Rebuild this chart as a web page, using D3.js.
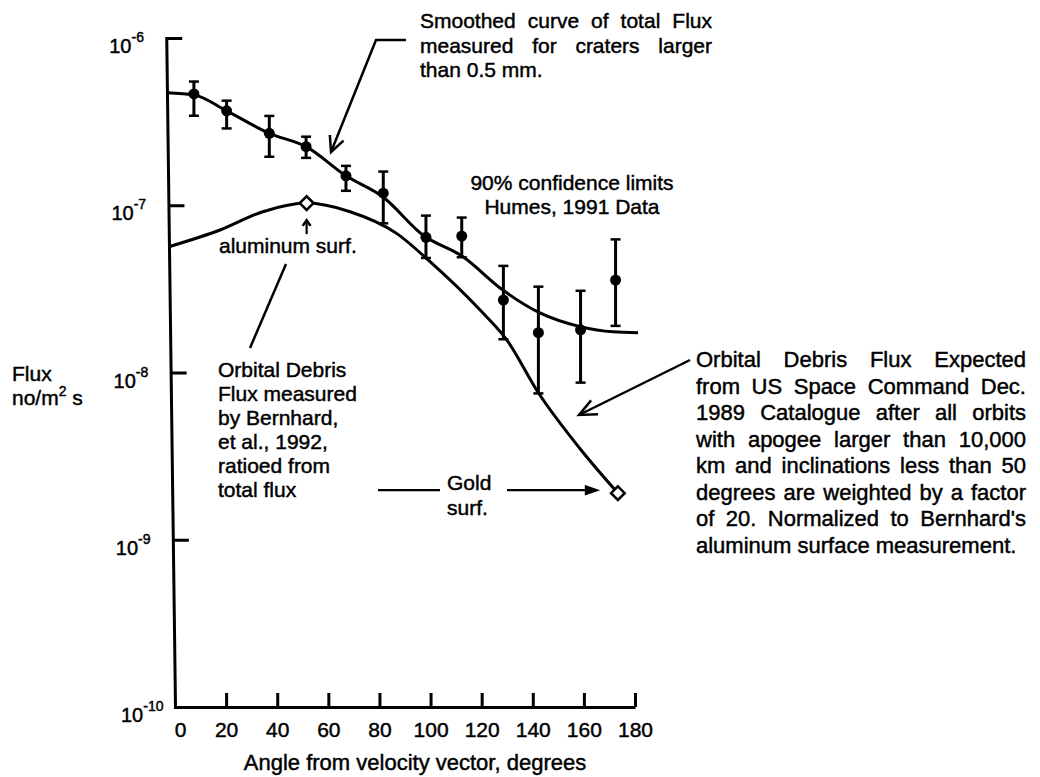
<!DOCTYPE html>
<html><head><meta charset="utf-8">
<script src="https://cdn.jsdelivr.net/npm/d3@7"></script>
<style>
body{margin:0;background:#fff}
text{font-family:"Liberation Sans",Arial,Helvetica,sans-serif;fill:#000;stroke:#000;stroke-width:0.45px}
</style>
</head><body>
<svg id="c" width="1040" height="777"></svg>
<script>
// ---------- data ----------
const xTicks = [0,20,40,60,80,100,120,140,160,180];
const yTicks = [1e-6,1e-7,1e-8,1e-9,1e-10];
const yTickExp = ["-6","-7","-8","-9","-10"];

// Humes 1991 data, 90% confidence limits
const humesAngle = [7.4,20.2,36.9,51.3,66.9,81.5,98.2,112.2,128.5,142.2,158.7,172.4];
const humesFlux  = [4.63e-7,3.67e-7,2.69e-7,2.24e-7,1.50e-7,1.18e-7,6.43e-8,6.54e-8,2.71e-8,1.73e-8,1.80e-8,3.57e-8];
const humesLow   = [3.43e-7,2.88e-7,1.95e-7,1.92e-7,1.22e-7,7.8e-8,4.84e-8,4.89e-8,1.58e-8,7.5e-9,8.7e-9,1.9e-8];
const humesHigh  = [5.49e-7,4.22e-7,3.42e-7,2.57e-7,1.72e-7,1.59e-7,8.67e-8,8.44e-8,4.34e-8,3.26e-8,3.08e-8,6.25e-8];

// smoothed curve of total flux
const smoothAngle = [0,7.4,20.2,36.9,51.3,66.9,81.4,97,112.7,128.3,142.8,158.5,171.4,181.2];
const smoothFlux  = [4.71e-7,4.57e-7,3.67e-7,2.69e-7,2.24e-7,1.50e-7,1.12e-7,6.64e-8,4.92e-8,3.11e-8,2.27e-8,1.88e-8,1.75e-8,1.73e-8];

// orbital debris flux expected (normalized to Bernhard)
const debrisAngle = [0,17.6,34.4,51.5,68.5,86.7,99.8,119.3,129.9,142,158.5,173.3];
const debrisFlux  = [5.65e-8,7.11e-8,9.15e-8,1.03e-7,9.15e-8,6.79e-8,4.6e-8,2.37e-8,1.56e-8,7.64e-9,3.5e-9,1.9e-9];

// Bernhard measurements (aluminum, gold surfaces)
const bernAngle = [51.5,173.3];
const bernFlux  = [1.03e-7,1.9e-9];

// ---------- setup ----------
const svg = d3.select("#c");
const x = d3.scaleLinear().domain([0,180]).range([175,635]);
const y = d3.scaleLog().domain([1e-10,1e-6]).range([707,38]);
const FS = 21;
const TILT = 0.75; // slight tilt of the scanned vertical axis (degrees)
const tiltOff = py => -(y(1e-10)-py)*Math.tan(TILT*Math.PI/180);

// axes
const gy = svg.append("g")
  .attr("transform",`translate(${x(0)},${y(1e-10)}) skewX(${TILT}) translate(0,${-y(1e-10)})`)
  .call(d3.axisLeft(y).tickValues(yTicks).tickSize(-16).tickSizeOuter(0).tickFormat(""));
gy.selectAll("path,line").attr("stroke","#000").attr("stroke-width",3);
gy.select(".domain").attr("stroke-linecap","square");
const gx = svg.append("g").attr("transform",`translate(0,${y(1e-10)})`)
  .call(d3.axisBottom(x).tickValues(xTicks).tickSize(-14).tickSizeOuter(0).tickPadding(15));
gx.selectAll("path,line").attr("stroke","#000").attr("stroke-width",3);
gx.selectAll(".tick").filter(d=>d===0).select("line").remove();
gx.selectAll(".tick").filter(d=>d===0).select("text").attr("dx",5);
gx.selectAll("text").attr("font-size",21).attr("font-family","Liberation Sans, Arial, sans-serif")
  .attr("fill","#000").attr("stroke","#000").attr("stroke-width",0.45);

// y tick labels with superscript
yTicks.forEach((v,i)=>{
  const t = svg.append("text").attr("x",(i===4?121:118)+tiltOff(y(v))).attr("y",y(v)+15).attr("font-size",20);
  t.append("tspan").text("10");
  t.append("tspan").attr("font-size",14).attr("dy",-11).text(yTickExp[i]);
});

// axis titles
svg.append("text").attr("x",(x(0)+x(180))/2+10).attr("y",770).attr("text-anchor","middle").attr("font-size",22)
  .text("Angle from velocity vector, degrees");
svg.append("text").attr("x",12).attr("y",y(1e-8)+8).attr("font-size",FS).text("Flux");
const ul = svg.append("text").attr("x",12).attr("y",y(1e-8)+32).attr("font-size",FS);
ul.append("tspan").text("no/m");
ul.append("tspan").attr("font-size",14).attr("dy",-9).text("2");
ul.append("tspan").attr("dy",9).text(" s");

// curves
const line = d3.line().curve(d3.curveMonotoneX);
svg.append("path").attr("d",line(smoothAngle.map((a,i)=>[x(a)+(a===0?tiltOff(y(smoothFlux[i])):0),y(smoothFlux[i])])))
  .attr("fill","none").attr("stroke","#000").attr("stroke-width",3);
svg.append("path").attr("d",line(debrisAngle.map((a,i)=>[x(a)+(a===0?tiltOff(y(debrisFlux[i])):0),y(debrisFlux[i])])))
  .attr("fill","none").attr("stroke","#000").attr("stroke-width",3);

// error bars
const eb = svg.append("g");
humesAngle.forEach((a,i)=>{
  eb.append("line").attr("x1",x(a)).attr("x2",x(a)).attr("y1",y(humesLow[i])).attr("y2",y(humesHigh[i]))
    .attr("stroke","#000").attr("stroke-width",3);
  [humesLow[i],humesHigh[i]].forEach(v=>{
    eb.append("line").attr("x1",x(a)-5).attr("x2",x(a)+5).attr("y1",y(v)).attr("y2",y(v))
      .attr("stroke","#000").attr("stroke-width",2.5);
  });
  eb.append("circle").attr("cx",x(a)).attr("cy",y(humesFlux[i])).attr("r",5.5).attr("fill","#000");
});

// diamonds
bernAngle.forEach((a,i)=>{
  svg.append("path").attr("d",d3.symbol(d3.symbolDiamond2,120)())
    .attr("transform",`translate(${x(a)},${y(bernFlux[i])})`)
    .attr("fill","#fff").attr("stroke","#000").attr("stroke-width",2.5);
});

// ---------- annotations ----------
function textLines(lines, x0, x1, yTop, lh, fs, justify){
  lines.forEach((ln,li)=>{
    const yy = yTop + li*lh;
    const words = ln.split(" ").filter(w=>w.length);
    const isLast = li===lines.length-1;
    if(!justify || isLast || words.length===1){
      svg.append("text").attr("x",x0).attr("y",yy).attr("font-size",fs).text(ln);
      return;
    }
    const nodes = words.map(w=>svg.append("text").attr("y",yy).attr("font-size",fs).text(w));
    const widths = nodes.map(n=>n.node().getComputedTextLength());
    const gap = Math.max(5,(x1-x0-d3.sum(widths))/(words.length-1));
    let cx = x0;
    nodes.forEach((n,k)=>{ n.attr("x",cx); cx += widths[k]+gap; });
  });
}
function arrowHead(tx,ty,fx,fy,len,ang,filled){
  const a = Math.atan2(fy-ty,fx-tx);
  const p1=[tx+len*Math.cos(a+ang),ty+len*Math.sin(a+ang)];
  const p2=[tx+len*Math.cos(a-ang),ty+len*Math.sin(a-ang)];
  if(filled){
    svg.append("path").attr("d",`M${p1}L${tx},${ty}L${p2}Z`).attr("fill","#000").attr("stroke","#000").attr("stroke-width",1.5);
  } else {
    svg.append("path").attr("d",`M${p1}L${tx},${ty}L${p2}`).attr("fill","none").attr("stroke","#000").attr("stroke-width",2.5);
  }
}
function seg(pts,w){
  svg.append("path").attr("d","M"+pts.map(p=>p.join(",")).join("L")).attr("fill","none").attr("stroke","#000").attr("stroke-width",w||2.5);
}

// top note
textLines(["Smoothed curve of total Flux","measured for craters larger","than 0.5 mm."],420,712,28,24.5,FS,true);
seg([[406,40],[376,40],[331,152]]);
arrowHead(331,152,376,40,17,0.45,false);

// confidence note
svg.append("text").attr("x",572).attr("y",190).attr("text-anchor","middle").attr("font-size",FS).text("90% confidence limits");
svg.append("text").attr("x",572).attr("y",214).attr("text-anchor","middle").attr("font-size",FS).text("Humes, 1991 Data");

// aluminum surf
svg.append("text").attr("x",219).attr("y",253).attr("font-size",FS).text("aluminum surf.");
const ax = x(bernAngle[0]), ay = y(bernFlux[0]);
seg([[ax,ay+31],[ax,ay+18]],2.2);
arrowHead(ax,ay+17,ax,ay+31,7,0.6,false);

// Bernhard note
textLines(["Orbital Debris","Flux measured","by Bernhard,","et al., 1992,","ratioed from","total flux"],218,340,377,24,FS,false);
seg([[286,264],[250,348]],2.5);

// Gold surf
const gx2 = x(bernAngle[1]), gy2 = y(bernFlux[1]);
svg.append("text").attr("x",447).attr("y",gy2-3).attr("font-size",FS).text("Gold");
svg.append("text").attr("x",447).attr("y",gy2+22).attr("font-size",FS).text("surf.");
seg([[378,gy2-3],[440,gy2-3]],2.2);
seg([[507,gy2-3],[gx2-22,gy2-3]],2.2);
arrowHead(gx2-20,gy2-3,507,gy2-3,13,0.33,true);

// right note
textLines(["Orbital Debris Flux Expected","from US Space Command Dec.","1989 Catalogue after all orbits",
  "with apogee larger than 10,000","km and inclinations less than 50","degrees are weighted by a factor",
  "of 20.  Normalized to Bernhard's","aluminum surface measurement."],696,1026,367,26.5,22,true);
seg([[690,360],[579,415]],2.5);
arrowHead(579,415,690,360,19,0.42,false);
</script>
</body></html>
